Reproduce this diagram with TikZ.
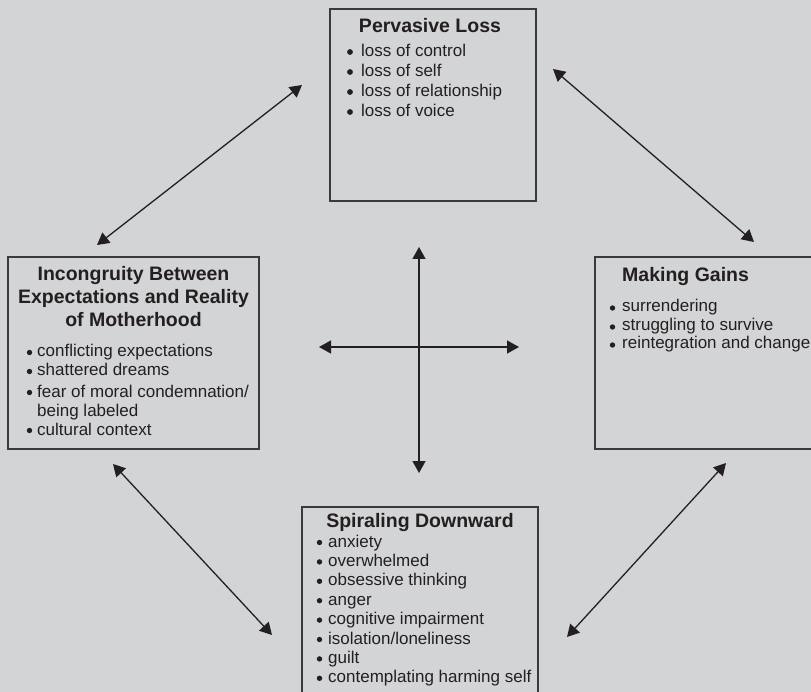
\documentclass[tikz,border=0pt]{standalone}
\usepackage{fontspec}
\setmainfont{Liberation Sans}
\usetikzlibrary{arrows.meta}
\definecolor{bg}{HTML}{D3D4D6}
\definecolor{ink}{HTML}{231F20}
\definecolor{frame}{HTML}{3A3A3C}
\begin{document}
\begin{tikzpicture}[x=1pt,y=-1pt,
  box/.style={draw=frame, line width=1.4pt, inner sep=0pt},
  title/.style={font=\fontsize{19.5}{23}\selectfont\bfseries, text=ink, inner sep=0pt, anchor=base},
  item/.style={font=\fontsize{17}{20}\selectfont, text=ink, inner sep=0pt, anchor=base west},
  dot/.style={fill=ink},
  link/.style={draw=ink, line width=1.3pt,
    {Triangle[length=12pt,width=13pt]}-{Triangle[length=12pt,width=13pt]}}]
\fill[bg] (0,0) rectangle (811,692);
\clip (0,0) rectangle (811,692);

% boxes
\node[box, minimum width=206pt, minimum height=192pt] (loss) at (433,105) {};
\node[box, minimum width=251pt, minimum height=192pt] (incong) at (133.5,353) {};
\node[box, minimum width=240pt, minimum height=192pt] (gains) at (715,353) {};
\node[box, minimum width=236pt, minimum height=210pt] (spiral) at (420,612) {};

% Pervasive Loss
\node[title] (loss-t) at (430,33) {Pervasive Loss};
\foreach \t [count=\i] in {loss of control, loss of self, loss of relationship, loss of voice} {
  \node[item] (loss-\i) at (361, 37+20*\i) {\t};
  \fill[dot] (350, 32+20*\i) circle (2.9pt);
}

% Incongruity
\node[title] (inc-t1) at (133.5,281) {Incongruity Between};
\node[title] (inc-t2) at (133.5,304) {Expectations and Reality};
\node[title] (inc-t3) at (133.5,327) {of Motherhood};
\node[item] (inc-1) at (37,357) {conflicting expectations};
\node[item] (inc-2) at (37,376) {shattered dreams};
\node[item] (inc-3) at (37,397) {fear of moral condemnation/};
\node[item] (inc-3b) at (37,417) {being labeled};
\node[item] (inc-4) at (37,435) {cultural context};
\foreach \b in {357,376,397,435} \fill[dot] (29.5, \b-4.5) circle (2.7pt);

% Making Gains
\node[title, anchor=base west] (gain-t) at (622,282) {Making Gains};
\foreach \t/\b [count=\i] in {surrendering/312, struggling to survive/331, reintegration and change/349} {
  \node[item] (gain-\i) at (622,\b) {\t};
  \fill[dot] (612.5, \b-4) circle (2.7pt);
}

% Spiraling Downward
\node[title] (spi-t) at (420,527) {Spiraling Downward};
\foreach \t [count=\i] in {anxiety, overwhelmed, obsessive thinking, anger, cognitive impairment, isolation/loneliness, guilt, contemplating harming self} {
  \node[item] (spi-\i) at (328, 527.6+19.4*\i) {\t};
  \fill[dot] (319.5, 523.1+19.4*\i) circle (2.7pt);
}

% connectors
\coordinate (a1) at (302,85);  \coordinate (a2) at (97,245);
\coordinate (b1) at (553,69);  \coordinate (b2) at (754,242);
\coordinate (c1) at (113,464); \coordinate (c2) at (272,635);
\coordinate (d1) at (726,463); \coordinate (d2) at (567,637);
\coordinate (v1) at (419,247); \coordinate (v2) at (419,473);
\coordinate (h1) at (319,347); \coordinate (h2) at (519,347);
\draw[link] (a1) -- (a2);
\draw[link] (b1) -- (b2);
\draw[link] (c1) -- (c2);
\draw[link] (d1) -- (d2);
\draw[link] (v1) -- (v2);
\draw[link] (h1) -- (h2);
\end{tikzpicture}
\end{document}
